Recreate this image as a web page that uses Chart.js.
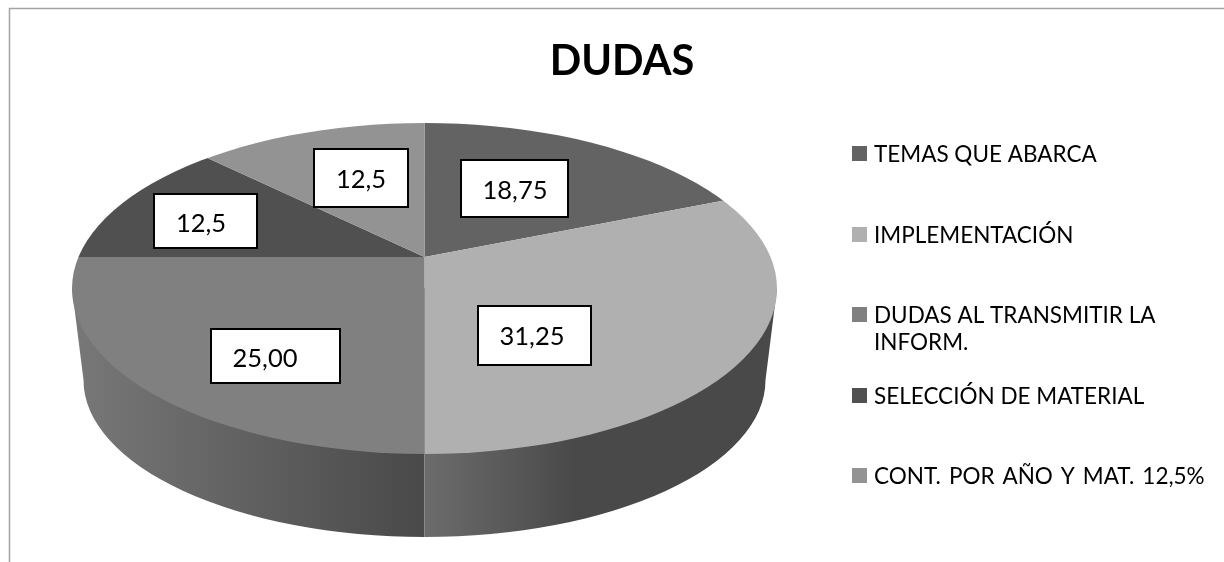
<!DOCTYPE html>
<html>
<head>
<meta charset="utf-8">
<style>html,body{margin:0;padding:0;background:#fff}canvas{display:block}</style>
<script src="https://cdn.jsdelivr.net/npm/chart.js@4"></script>
</head>
<body>
<canvas id="c" width="1224" height="562"></canvas>
<script>
const titleText = 'DUDAS';
const categories = ['TEMAS QUE ABARCA','IMPLEMENTACIÓN',['DUDAS AL TRANSMITIR LA','INFORM.'],'SELECCIÓN DE MATERIAL','CONT. POR AÑO Y MAT. 12,5%'];
const values = [18.75,31.25,25,12.5,12.5];
const valueLabels = ['18,75','31,25','25,00','12,5','12,5'];
const colors = ['#636363','#b0b0b0','#808080','#505050','#939393'];

// layout constants of the tilted drawing
const APEX = {x:424.5,y:257}, TILT = 0.456;
const TOP = {x:424.5,y:288.5,rx:352.5,ry:165.5};
const BASE = {x:424.5,y:380,rx:341,ry:157};
const LABEL_BOXES = [
  {x:461,y:160,w:107,h:57,tx:515,ty:191},
  {x:478,y:306,w:113,h:59,tx:532,ty:337},
  {x:211,y:329,w:129,h:54,tx:265,ty:359},
  {x:154,y:194,w:103,h:54,tx:201,ty:224},
  {x:314,y:149,w:94,h:58,tx:361,ty:180}
];
const LEGEND_Y = [146,227,307,388,468];
const FONT = 'Lato, "Open Sans", sans-serif';

const tilted = {
  id:'tilted',
  beforeDatasetsDraw(chart){
    const ctx = chart.ctx, el = chart.getDatasetMeta(0).data[0];
    // wall
    ctx.save();
    ctx.beginPath();
    ctx.moveTo(TOP.x-TOP.rx,TOP.y);
    ctx.lineTo(BASE.x-BASE.rx,BASE.y);
    ctx.ellipse(BASE.x,BASE.y,BASE.rx,BASE.ry,0,Math.PI,0,true);
    ctx.lineTo(TOP.x+TOP.rx,TOP.y);
    ctx.closePath();
    ctx.clip();
    const gl = ctx.createLinearGradient(72,0,APEX.x,0);
    gl.addColorStop(0,'#787878'); gl.addColorStop(1,'#494949');
    ctx.fillStyle = gl;
    ctx.fillRect(60,TOP.y-5,APEX.x-60,270);
    const gr = ctx.createLinearGradient(APEX.x,0,575,0);
    gr.addColorStop(0,'#6c6c6c'); gr.addColorStop(1,'#494949');
    ctx.fillStyle = gr;
    ctx.fillRect(APEX.x,TOP.y-5,380,270);
    ctx.restore();
    // top face
    ctx.save();
    ctx.beginPath();
    ctx.ellipse(TOP.x,TOP.y,TOP.rx,TOP.ry,0,0,Math.PI*2);
    ctx.clip();
    ctx.translate(APEX.x,APEX.y);
    ctx.scale(1,TILT);
    ctx.translate(-el.x,-el.y);
  },
  afterDatasetsDraw(chart){
    const ctx = chart.ctx;
    ctx.restore();
    // value boxes
    ctx.save();
    ctx.textBaseline='middle';
    ctx.textAlign='center';
    LABEL_BOXES.forEach((b,i)=>{
      ctx.fillStyle='#fff'; ctx.fillRect(b.x,b.y,b.w,b.h);
      ctx.strokeStyle='#000'; ctx.lineWidth=2; ctx.strokeRect(b.x,b.y,b.w,b.h);
      ctx.font = '25.5px '+FONT;
      ctx.fillStyle='#000'; ctx.fillText(valueLabels[i],b.tx,b.ty);
    });
    // legend
    ctx.textAlign='left';
    ctx.font = '22.5px '+FONT;
    categories.forEach((c,i)=>{
      const y = LEGEND_Y[i];
      ctx.fillStyle=colors[i]; ctx.fillRect(852,y,15,15);
      ctx.fillStyle='#000';
      ctx.wordSpacing = i===4 ? '2.2px' : '0px';
      const lines = Array.isArray(c)?c:[c];
      lines.forEach((t,k)=>ctx.fillText(t,874,y+9+k*27));
    });
    ctx.wordSpacing='0px';
    // frame
    ctx.strokeStyle='#a3a3a3'; ctx.lineWidth=1.5;
    ctx.beginPath();
    ctx.moveTo(9.5,562); ctx.lineTo(9.5,8.5); ctx.lineTo(1224,8.5);
    ctx.stroke();
    ctx.restore();
  }
};

new Chart(document.getElementById('c'),{
  type:'pie',
  data:{labels:categories,datasets:[{data:values,backgroundColor:colors,borderWidth:0,radius:460}]},
  plugins:[tilted],
  options:{
    responsive:false,animation:false,
    layout:{padding:{left:20}},
    plugins:{
      legend:{display:false},tooltip:{enabled:false},
      title:{display:true,text:titleText,color:'#000',font:{family:FONT,size:41.5,weight:'bold'},padding:{top:37,bottom:10}}
    }
  }
});
</script>
</body>
</html>
